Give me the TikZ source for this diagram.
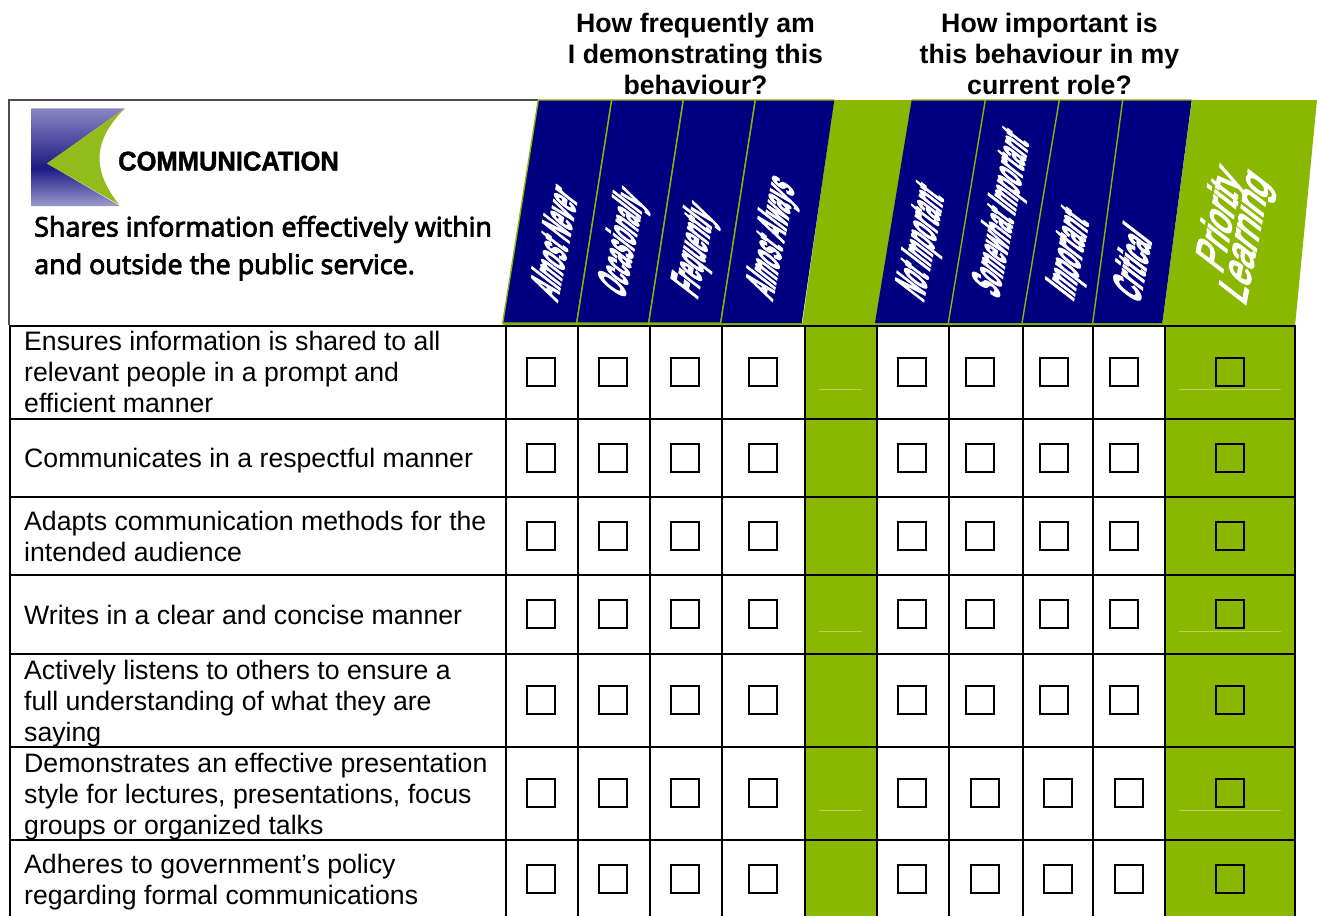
\documentclass[tikz,border=0pt]{standalone}
\usepackage{fontspec}
\usepackage{graphicx}
\setmainfont{Liberation Sans}
\newfontfamily\sharesfont[FakeBold=3.2]{Open Sans}
\newfontfamily\commfont[FakeStretch=0.945,FakeBold=1.5]{Liberation Sans}
\newfontfamily\wafont[FakeBold=4.5]{Liberation Sans}
\usetikzlibrary{positioning}
\definecolor{gr}{HTML}{8AB800}
\definecolor{nv}{HTML}{000080}
\definecolor{thin}{HTML}{B4D25E}
\definecolor{icb}{HTML}{9C9ACE}
\definecolor{icd}{HTML}{1E1A84}
\definecolor{ict}{HTML}{8A86C2}
\definecolor{icg}{HTML}{92BC1C}
\pgfdeclareverticalshading{iconshade}{100bp}{color(0bp)=(icb);color(25bp)=(icb);color(44.4bp)=(icd);color(75bp)=(ict);color(100bp)=(ict)}
\tikzset{
  x=1pt,y=-1pt,
  cbox/.style={draw=black,line width=1.5pt,minimum size=28pt,inner sep=0pt,fill=none},
  rowtxt/.style={anchor=west,align=left,inner sep=0pt,font=\fontsize{26.65}{31}\selectfont},
  headtxt/.style={anchor=center,align=center,inner sep=0pt,font=\fontsize{26.7}{31}\bfseries\selectfont},
  hcell/.style={fill=nv,draw=gr,line width=1.4pt},
  grid/.style={draw=black,line width=2pt},
  thinline/.style={draw=thin,line width=0.7pt},
  wa/.style={anchor=base west,inner sep=0pt,text=white,rotate=79,xslant=.5,font=\wafont\fontsize{40}{40}\bfseries\selectfont},
  wb/.style={anchor=base west,inner sep=0pt,text=white,rotate=79,xslant=.5,font=\wafont\fontsize{40}{40}\selectfont},
}
\newcommand{\lbl}[6]{\node[#1] (#2) at (#3,#4) {\resizebox{#5pt}{31pt}{#6}};}
\begin{document}
\begin{tikzpicture}
\useasboundingbox (0,0) rectangle (1317,916);
\fill[white] (0,0) rectangle (1317,916);
% green bands in table
\fill[gr] (805,326) rectangle (877,916);
\fill[gr] (1165,326) rectangle (1295,916);
% header box
\draw[draw=black!70,line width=1.2pt] (538,100) -- (9,100) -- (9,325);
% header green
\fill[gr] (834,100) -- (912,100) -- (876,326) -- (802,326) -- cycle;
\fill[gr] (1192,100) -- (1317,100) -- (1295,326) -- (1162,326) -- cycle;
\fill[gr] (502.5,322.5) rectangle (1295,326);
% header navy
\foreach \a/\b/\c/\d in {502.7/538.3/611.7/576.7,576.7/611.7/683.3/648.7,648.7/683.3/755.3/720.7}
  \draw[hcell] (\a,323) -- (\b,100) -- (\c,100) -- (\d,323) -- cycle;
\fill[nv] (720.7,323) -- (755.3,100) -- (834.3,100) -- (801.7,323) -- cycle;
\draw[gr,line width=1.4pt] (720.7,323) -- (755.3,100) -- (834.3,100);
\fill[nv] (875,323) -- (911.7,100) -- (985.3,100) -- (948.3,323) -- cycle;
\fill[nv] (948.3,323) -- (985.3,100) -- (1059.3,100) -- (1022,323) -- cycle;
\fill[nv] (1022,323) -- (1059.3,100) -- (1122.7,100) -- (1092.7,323) -- cycle;
\fill[nv] (1092.7,323) -- (1122.7,100) -- (1191.7,100) -- (1162.3,323) -- cycle;
\draw[gr,line width=1.4pt] (948.3,323) -- (985.3,100) (1022,323) -- (1059.3,100) (1092.7,323) -- (1122.7,100) (911.7,100) -- (1191.7,100);
% icon
\path[shading=iconshade] (31.3,108.3) -- (125,108.3) -- (47,163.5) -- (120,206) -- (31.3,206) -- cycle;
\fill[icg] (47,163.5) -- (125,108.3) .. controls (88,145) and (96,175) .. (119,204.5) -- cycle;
% title texts
\node[anchor=base west,inner sep=0pt,font=\commfont\bfseries\fontsize{27}{27}\selectfont] (title) at (118,170.5) {COMMUNICATION};
\node[anchor=base west,inner sep=0pt,align=left,font=\sharesfont\fontsize{26.9}{37.5}\selectfont] (shares) at (34,274) {Shares information effectively within\\and outside the public service.};
% headings
\node[headtxt] (h1) at (695.5,54) {How frequently am\\I demonstrating this\\behaviour?};
\node[headtxt] (h2) at (1049.5,54) {How important is\\this behaviour in my\\current role?};
% slanted labels
\lbl{wa}{l1}{557}{303}{105}{Almost Never}
\lbl{wa}{l2}{624}{300}{100}{Occasionally}
\lbl{wa}{l3}{697}{300}{85}{Frequently}
\lbl{wa}{l4}{772}{302}{115}{Almost Always}
\lbl{wa}{l5}{923}{303}{106}{Not Important}
\lbl{wa}{l6}{998}{300}{159}{Somewhat Important}
\lbl{wa}{l7}{1073}{302}{80}{Important}
\lbl{wa}{l8}{1139}{305}{65}{Critical}
\lbl{wb}{l9}{1222}{275}{97}{Priority}
\lbl{wb}{l10}{1245}{307}{126}{Learning}
% grid
\foreach \y in {326,419,497,575,654,747,840}
  \draw[grid] (10,\y) -- (1295,\y);
\foreach \x in {10,505.5,577.5,650,722,805,877,949,1023,1093,1165,1295}
  \draw[grid] (\x,325) -- (\x,916);
% thin lines
\foreach \y in {389,631,810}{
  \draw[thinline] (819,\y) -- (862,\y);
  \draw[thinline] (1179,\y) -- (1281,\y);
}
% row text
\node[rowtxt] (r1) at (24,372) {Ensures information is shared to all\\relevant people in a prompt and\\efficient manner};
\node[rowtxt] (r2) at (24,461) {Communicates in a respectful manner};
\node[rowtxt] (r3) at (24,536.5) {Adapts communication methods for the\\intended audience};
\node[rowtxt] (r4) at (24,615) {Writes in a clear and concise manner};
\node[rowtxt] (r5) at (24,704) {Actively listens to others to ensure a\\full understanding of what they are\\saying};
\node[rowtxt] (r6) at (24,797) {Demonstrates an effective presentation\\style for lectures, presentations, focus\\groups or organized talks};
\node[rowtxt] (r7) at (24,882.5) {Adheres to government’s policy\\regarding formal communications};
% check boxes
\foreach \y/\n in {372/a,458/b,536/c,614/d,700/e}{
  \foreach \x in {541,613,685,763,912,980,1054,1124,1230}
    \node[cbox] (c\n\x) at (\x,\y) {};
}
\foreach \y/\n in {793/f,879/g}{
  \foreach \x in {541,613,685,763,912,985,1058,1129,1230}
    \node[cbox] (c\n\x) at (\x,\y) {};
}
\end{tikzpicture}
\end{document}
